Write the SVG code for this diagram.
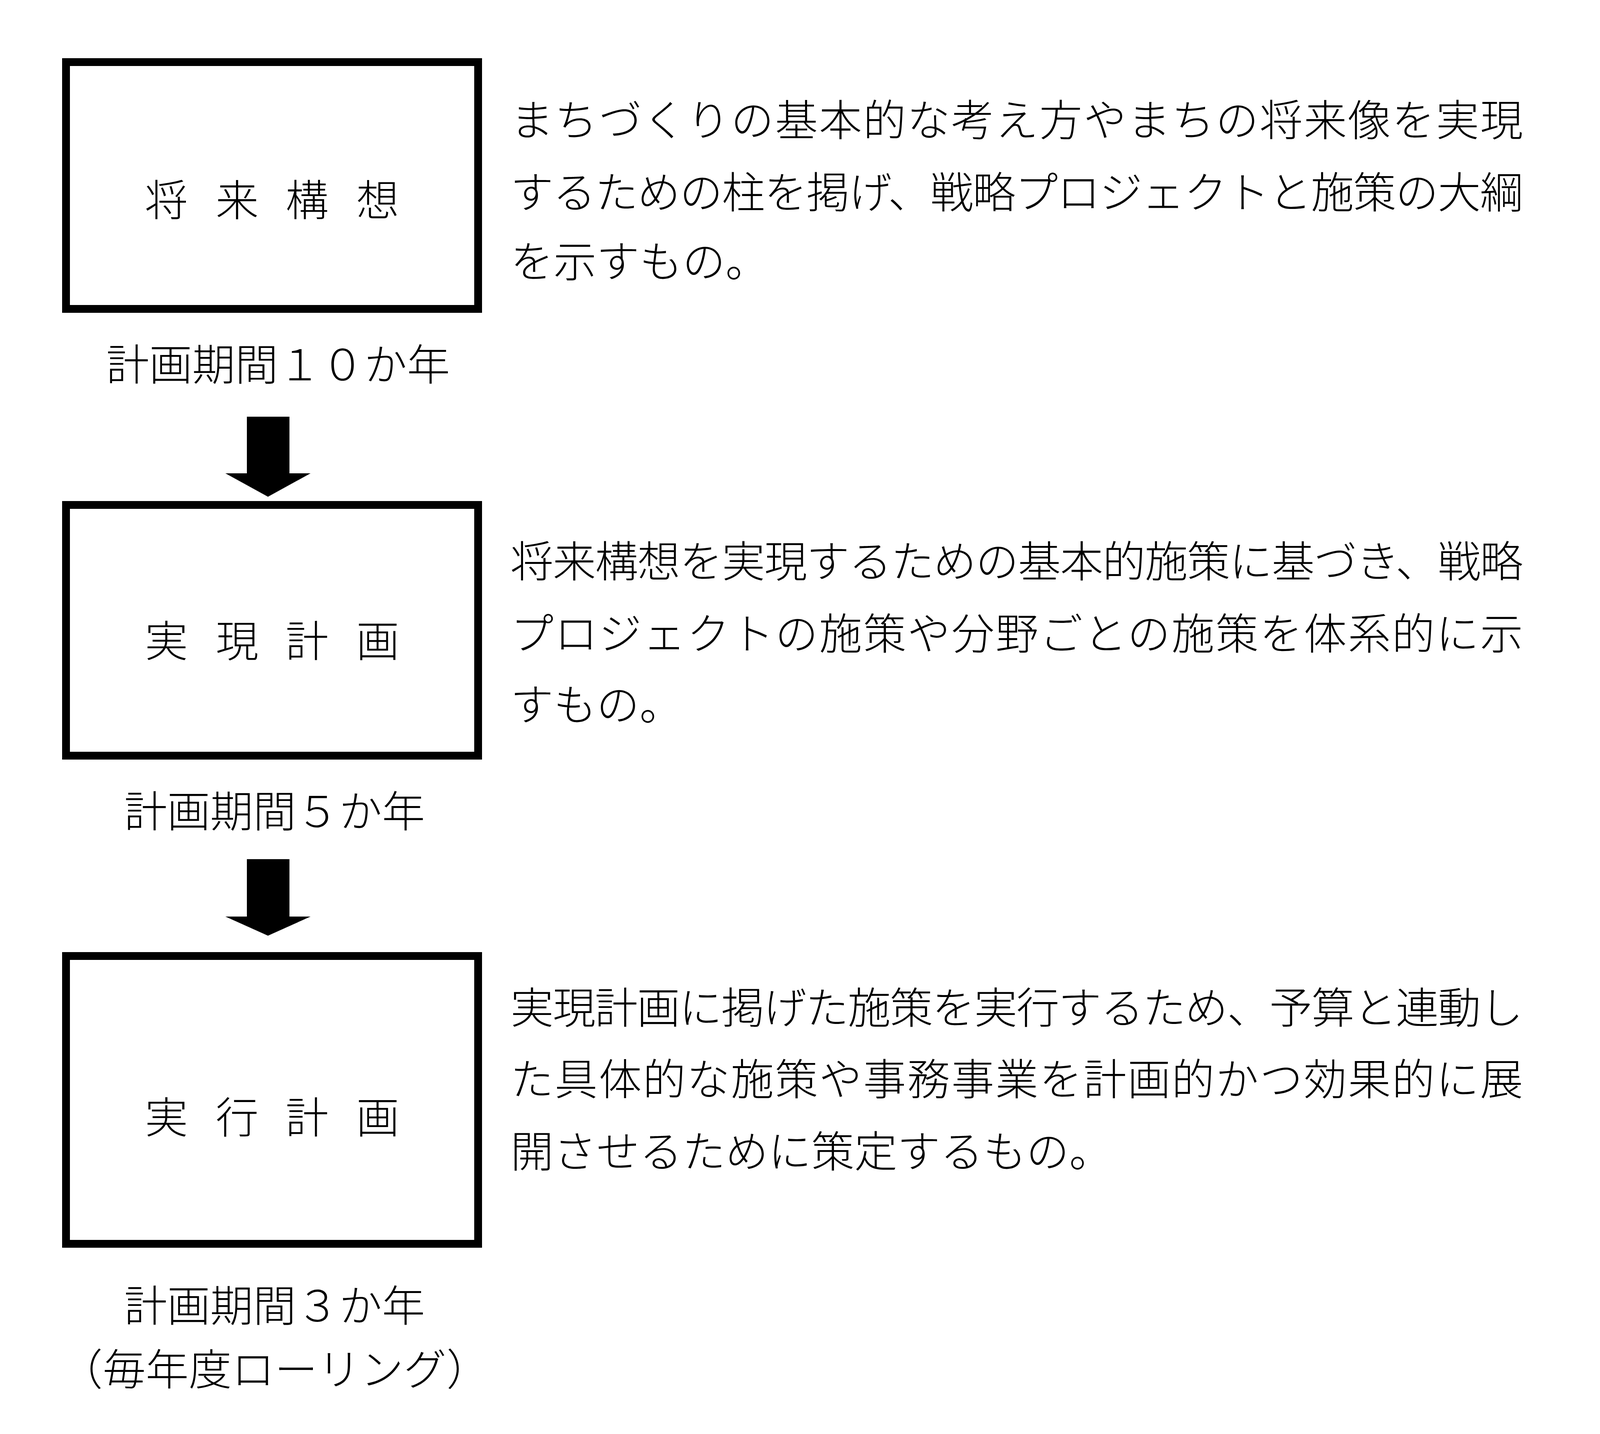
<svg xmlns="http://www.w3.org/2000/svg" width="4248" height="3672" viewBox="0 0 4248 3672">
<style>
text{font-family:"Noto Sans CJK JP","Noto Sans",sans-serif;font-weight:300;fill:#000;dominant-baseline:central}
.box{fill:#fff;stroke:#000;stroke-width:20}
.t{font-size:110px;text-anchor:middle}
.d{font-size:110px}
.arrow{fill:#000}
</style>
<rect width="4248" height="3672" fill="#fff"/>
<g id="node1">
<rect class="box" x="169" y="159" width="1055" height="632"/>
<text class="t" x="426" y="505">将</text><text class="t" x="607" y="505">来</text><text class="t" x="786" y="505">構</text><text class="t" x="967" y="505">想</text>
</g>
<text class="t" x="712" y="926">計画期間１０か年</text>
<g id="node2">
<rect class="box" x="169" y="1293" width="1055" height="642"/>
<text class="t" x="426" y="1634">実</text><text class="t" x="607" y="1634">現</text><text class="t" x="786" y="1634">計</text><text class="t" x="967" y="1634">画</text>
</g>
<text class="t" x="703" y="2070">計画期間５か年</text>
<g id="node3">
<rect class="box" x="169" y="2448" width="1055" height="737"/>
<text class="t" x="426" y="2854">実</text><text class="t" x="607" y="2854">行</text><text class="t" x="786" y="2854">計</text><text class="t" x="967" y="2854">画</text>
</g>
<text class="t" x="703" y="3336">計画期間３か年</text>
<text class="t" x="703" y="3499">（毎年度ローリング）</text>
<g id="connectors">
<polygon class="arrow" points="632,1067 741,1067 741,1212 795,1212 686,1272 577,1212 632,1212"/>
<polygon class="arrow" points="632,2200 741,2200 741,2347 795,2347 686,2396 577,2347 632,2347"/>
</g>
<g id="desc1">
<text class="d" x="1307" y="300" textLength="2592" lengthAdjust="spacing">まちづくりの基本的な考え方やまちの将来像を実現</text>
<text class="d" x="1307" y="485" textLength="2592" lengthAdjust="spacing">するための柱を掲げ、戦略プロジェクトと施策の大綱</text>
<text class="d" x="1307" y="662">を示すもの。</text>
</g>
<g id="desc2">
<text class="d" x="1307" y="1430" textLength="2592" lengthAdjust="spacing">将来構想を実現するための基本的施策に基づき、戦略</text>
<text class="d" x="1307" y="1615" textLength="2592" lengthAdjust="spacing">プロジェクトの施策や分野ごとの施策を体系的に示</text>
<text class="d" x="1307" y="1797">すもの。</text>
</g>
<g id="desc3">
<text class="d" x="1307" y="2573" textLength="2592" lengthAdjust="spacing">実現計画に掲げた施策を実行するため、予算と連動し</text>
<text class="d" x="1307" y="2756" textLength="2592" lengthAdjust="spacing">た具体的な施策や事務事業を計画的かつ効果的に展</text>
<text class="d" x="1307" y="2941">開させるために策定するもの。</text>
</g>
</svg>
